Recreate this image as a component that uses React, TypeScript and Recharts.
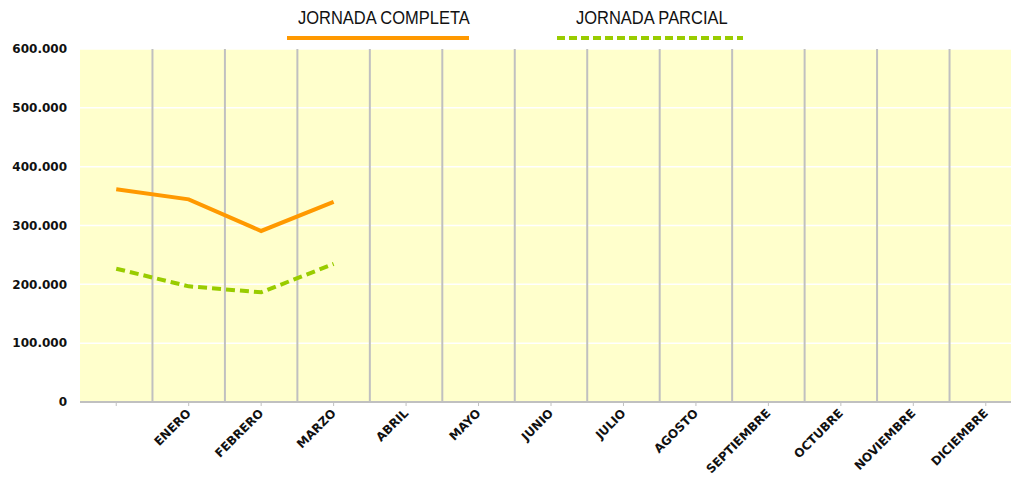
import {
  ComposedChart,
  Line,
  XAxis,
  YAxis,
  CartesianGrid,
  ReferenceLine,
} from 'recharts';

const MESES = ['', 'ENERO', 'FEBRERO', 'MARZO', 'ABRIL', 'MAYO', 'JUNIO', 'JULIO', 'AGOSTO', 'SEPTIEMBRE', 'OCTUBRE', 'NOVIEMBRE', 'DICIEMBRE'];
const COMPLETA = [361500, 344500, 290700, 340000, null, null, null, null, null, null, null, null, null];
const PARCIAL = [226600, 196600, 186400, 234600, null, null, null, null, null, null, null, null, null];
const Y_TICKS = [0, 100000, 200000, 300000, 400000, 500000, 600000];
const SERIES_NAMES = ['JORNADA COMPLETA', 'JORNADA PARCIAL'];

const ORANGE = '#FF9900';
const GREEN  = '#99CC00';
const GRID_V = '#C0C0C0';
const PLOT_BG = '#FFFFCC';
const AXIS_FONT = "'DejaVu Sans', Verdana, sans-serif";
const LEGEND_FONT = "'Liberation Sans', Arial, sans-serif";

const data = MESES.map((m, i) => ({ idx: i, mes: m, completa: COMPLETA[i], parcial: PARCIAL[i] }));
const dividers = MESES.map((_, i) => i + 0.5);

const fmtMiles = (v: number) => String(v).replace(/\B(?=(\d{3})+(?!\d))/g, '.');

function MonthTick({ x, y, payload }: any) {
  return (
    <g transform={`translate(${x + 3},${y + 6})`}>
      <text
        x={0}
        y={0}
        textAnchor="end"
        transform="rotate(-45)"
        fontFamily={AXIS_FONT}
        fontWeight="bold"
        fontSize={12}
        fill="#111"
      >
        {MESES[payload.value]}
      </text>
    </g>
  );
}

const labelStyle: React.CSSProperties = {
  position: 'absolute',
  top: 8,
  fontSize: 18,
  color: '#111',
  whiteSpace: 'nowrap',
  transform: 'scaleX(0.915)',
  transformOrigin: 'left',
};

function TopLegend() {
  return (
    <div style={{ position: 'absolute', left: 0, top: 0, width: 1011, height: 45, fontFamily: LEGEND_FONT }}>
      <div style={{ ...labelStyle, left: 298 }}>{SERIES_NAMES[0]}</div>
      <div style={{ position: 'absolute', left: 287, top: 36, width: 182, height: 4, background: ORANGE }} />
      <div style={{ ...labelStyle, left: 576 }}>{SERIES_NAMES[1]}</div>
      <svg style={{ position: 'absolute', left: 557, top: 36 }} width={186} height={4}>
        <line x1={0} y1={2} x2={186} y2={2} stroke={GREEN} strokeWidth={4} strokeDasharray="8 4" />
      </svg>
    </div>
  );
}

export default function App() {
  return (
    <div style={{ position: 'fixed', left: 0, top: 0, width: 1011, height: 477, overflow: 'hidden', background: '#fff' }}>
      <ComposedChart
        width={1011}
        height={477}
        data={data}
        margin={{ top: 49, right: -11, bottom: 0, left: 0 }}
        style={{ background: '#fff' }}
      >
        <CartesianGrid
          vertical={false}
          stroke="#FFFFFF"
          strokeWidth={1.5}
          fill={PLOT_BG}
          fillOpacity={1}
        />
        {dividers.map(d => (
          <ReferenceLine key={d} x={d} stroke={GRID_V} strokeWidth={2} />
        ))}
        <XAxis
          dataKey="idx"
          type="number"
          domain={[-0.5, 12.5]}
          ticks={MESES.map((_, i) => i)}
          interval={0}
          height={75}
          tick={<MonthTick />}
          axisLine={{ stroke: GRID_V, strokeWidth: 2 }}
          tickLine={{ stroke: GRID_V }}
          tickSize={4}
        />
        <YAxis
          domain={[0, 600000]}
          ticks={Y_TICKS}
          tickFormatter={v => fmtMiles(v as number)}
          width={80}
          axisLine={false}
          tickLine={false}
          tickSize={0}
          tickMargin={13}
          tick={{ fill: '#111', fontFamily: AXIS_FONT, fontWeight: 'bold', fontSize: 12 }}
        />
        <Line
          type="linear"
          dataKey="completa"
          name={SERIES_NAMES[0]}
          stroke={ORANGE}
          strokeWidth={4}
          dot={false}
          isAnimationActive={false}
        />
        <Line
          type="linear"
          dataKey="parcial"
          name={SERIES_NAMES[1]}
          stroke={GREEN}
          strokeWidth={4}
          strokeDasharray="9 5"
          dot={false}
          isAnimationActive={false}
        />
      </ComposedChart>
      <TopLegend />
    </div>
  );
}
